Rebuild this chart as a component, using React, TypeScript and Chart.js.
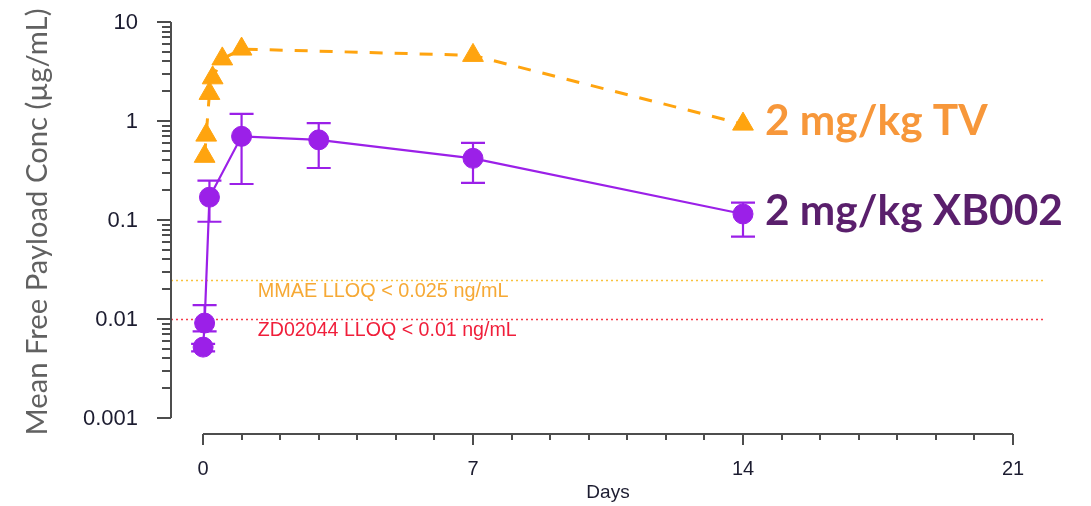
import { useEffect, useRef } from 'react';
import { Chart, registerables } from 'chart.js';

Chart.register(...registerables);

// ---- data ----
const tvDays = [0.042, 0.083, 0.167, 0.25, 0.5, 1, 7, 14];
const tvConc = [0.44, 0.72, 1.9, 2.73, 4.24, 5.33, 4.6, 0.93];

const xbDays = [0.0035, 0.042, 0.167, 1, 3, 7, 14];
const xbConc = [0.0052, 0.0091, 0.17, 0.7, 0.645, 0.42, 0.115];
const xbUpper = [0.0056, 0.0138, 0.25, 1.18, 0.95, 0.6, 0.15];
const xbLower = [0.0047, 0.0075, 0.096, 0.231, 0.335, 0.237, 0.068];

const lloqValues = [0.025, 0.01];
const lloqLabels = ['MMAE LLOQ < 0.025 ng/mL', 'ZD02044 LLOQ < 0.01 ng/mL'];

const xMajorTicks = [0, 7, 14, 21];
const xMajorLabels = ['0', '7', '14', '21'];
const xMinorTicks = [1, 2, 3, 4, 5, 6, 8, 9, 10, 11, 12, 13, 15, 16, 17, 18, 19, 20];
const yMajorTicks = [0.001, 0.01, 0.1, 1, 10];
const yMajorLabels = ['0.001', '0.01', '0.1', '1', '10'];
const yMinorMultipliers = [2, 3, 4, 5, 6, 7, 8, 9];

const seriesLabels = ['2 mg/kg TV', '2 mg/kg XB002'];
const xTitle = 'Days';
const yTitle = 'Mean Free Payload Conc (µg/mL)';

// ---- styles ----
const PURPLE = '#9b20e8';
const ORANGE = '#ffa40f';
const TV_TEXT = '#f7973a';
const XB_TEXT = '#5a1f6c';
const AXIS = '#4d4d4d';
const TICK_TEXT = '#1c1c30';

function fitSize(ctx: CanvasRenderingContext2D, text: string, weight: string, family: string, width: number) {
  ctx.font = `${weight} 100px ${family}`;
  return (100 * width) / ctx.measureText(text).width;
}

const errorBarPlugin = {
  id: 'errorBars',
  beforeDatasetsDraw(chart: any) {
    const { ctx, scales } = chart;
    const x = scales.x;
    const y = scales.y;
    ctx.save();
    ctx.strokeStyle = PURPLE;
    ctx.lineWidth = 2.2;
    for (let i = 0; i < xbDays.length; i++) {
      const px = x.getPixelForValue(xbDays[i]);
      const top = y.getPixelForValue(xbUpper[i]);
      const bot = y.getPixelForValue(xbLower[i]);
      ctx.beginPath();
      ctx.moveTo(px, top);
      ctx.lineTo(px, bot);
      ctx.moveTo(px - 12, top);
      ctx.lineTo(px + 12, top);
      ctx.moveTo(px - 12, bot);
      ctx.lineTo(px + 12, bot);
      ctx.stroke();
    }
    // LLOQ reference lines
    const lineColors = ['#f8c23e', '#f53a4a'];
    const textColors = ['#f6a935', '#f01e3a'];
    const left = chart.chartArea.left - 32;
    const right = chart.chartArea.right + 30;
    ctx.lineWidth = 1.5;
    ctx.setLineDash([2, 3]);
    for (let i = 0; i < lloqValues.length; i++) {
      const py = Math.round(y.getPixelForValue(lloqValues[i])) + 0.5;
      ctx.strokeStyle = lineColors[i];
      ctx.beginPath();
      ctx.moveTo(left, py);
      ctx.lineTo(right, py);
      ctx.stroke();
    }
    ctx.setLineDash([]);
    ctx.textAlign = 'left';
    ctx.textBaseline = 'middle';
    const tx = x.getPixelForValue(1.42);
    for (let i = 0; i < lloqValues.length; i++) {
      const py = y.getPixelForValue(lloqValues[i]);
      const s = fitSize(ctx, lloqLabels[i], '400', '"Liberation Sans", Arial, sans-serif', i === 0 ? 251 : 259);
      ctx.font = `400 ${s}px "Liberation Sans", Arial, sans-serif`;
      ctx.fillStyle = textColors[i];
      ctx.fillText(lloqLabels[i], tx, py + 12);
    }
    ctx.restore();
  },
};

const axesPlugin = {
  id: 'detachedAxes',
  afterDraw(chart: any) {
    const { ctx, chartArea, scales } = chart;
    const x = scales.x;
    const y = scales.y;
    ctx.save();
    ctx.strokeStyle = AXIS;
    ctx.lineWidth = 2;
    ctx.fillStyle = TICK_TEXT;

    // y axis
    const ax = chartArea.left - 32;
    const yTop = y.getPixelForValue(yMajorTicks[yMajorTicks.length - 1]);
    const yBot = y.getPixelForValue(yMajorTicks[0]);
    ctx.beginPath();
    ctx.moveTo(ax, yTop);
    ctx.lineTo(ax, yBot);
    for (const v of yMajorTicks) {
      const py = Math.round(y.getPixelForValue(v));
      ctx.moveTo(ax, py);
      ctx.lineTo(ax - 14, py);
    }
    for (let d = 0; d < yMajorTicks.length - 1; d++) {
      for (const m of yMinorMultipliers) {
        const py = Math.round(y.getPixelForValue(yMajorTicks[d] * m));
        ctx.moveTo(ax, py);
        ctx.lineTo(ax - 9, py);
      }
    }
    ctx.stroke();
    ctx.font = '400 22px "Liberation Sans", Arial, sans-serif';
    ctx.textAlign = 'right';
    ctx.textBaseline = 'middle';
    yMajorTicks.forEach((v, i) => {
      ctx.fillText(yMajorLabels[i], ax - 33, y.getPixelForValue(v) + 1);
    });

    // x axis
    const ay = chartArea.bottom + 16;
    ctx.beginPath();
    ctx.moveTo(x.getPixelForValue(xMajorTicks[0]), ay);
    ctx.lineTo(x.getPixelForValue(xMajorTicks[xMajorTicks.length - 1]), ay);
    for (const v of xMajorTicks) {
      const px = Math.round(x.getPixelForValue(v));
      ctx.moveTo(px, ay);
      ctx.lineTo(px, ay + 11);
    }
    for (const v of xMinorTicks) {
      const px = Math.round(x.getPixelForValue(v));
      ctx.moveTo(px, ay);
      ctx.lineTo(px, ay + 6);
    }
    ctx.stroke();
    ctx.font = '400 20px "Liberation Sans", Arial, sans-serif';
    ctx.textAlign = 'center';
    ctx.textBaseline = 'middle';
    xMajorTicks.forEach((v, i) => {
      ctx.fillText(xMajorLabels[i], x.getPixelForValue(v), ay + 35);
    });
    ctx.font = '400 19px "Liberation Sans", Arial, sans-serif';
    ctx.fillText(xTitle, x.getPixelForValue(10.5), ay + 59);

    // y title
    ctx.save();
    const ts = fitSize(ctx, yTitle, '400', 'Lato, "Open Sans", sans-serif', 427);
    ctx.font = `400 ${ts}px Lato, "Open Sans", sans-serif`;
    ctx.fillStyle = '#616161';
    ctx.translate(38, (yTop + yBot) / 2 + 2);
    ctx.rotate(-Math.PI / 2);
    ctx.textAlign = 'center';
    ctx.textBaseline = 'middle';
    ctx.fillText(yTitle, 0, 0);
    ctx.restore();

    // series labels at last points
    const lastTv = tvDays.length - 1;
    const lastXb = xbDays.length - 1;
    const s1 = fitSize(ctx, seriesLabels[1], '700', 'Lato, "Open Sans", sans-serif', 298);
    ctx.font = `700 ${s1}px Lato, "Open Sans", sans-serif`;
    ctx.textAlign = 'left';
    ctx.textBaseline = 'alphabetic';
    ctx.fillStyle = TV_TEXT;
    ctx.fillText(seriesLabels[0], x.getPixelForValue(tvDays[lastTv]) + 22, y.getPixelForValue(tvConc[lastTv]) + 11);
    ctx.fillStyle = XB_TEXT;
    ctx.fillText(seriesLabels[1], x.getPixelForValue(xbDays[lastXb]) + 22, y.getPixelForValue(xbConc[lastXb]) + 11);
    ctx.restore();
  },
};

export default function App() {
  const ref = useRef<HTMLCanvasElement>(null);
  useEffect(() => {
    const chart = new Chart(ref.current!, {
      type: 'line',
      data: {
        datasets: [
          {
            label: seriesLabels[1],
            data: xbDays.map((d, i) => ({ x: d, y: xbConc[i] })),
            borderColor: PURPLE,
            backgroundColor: PURPLE,
            borderWidth: 2.2,
            pointStyle: 'circle',
            pointRadius: 10,
            pointBorderWidth: 1,
            tension: 0,
            clip: false as any,
          },
          {
            label: seriesLabels[0],
            data: tvDays.map((d, i) => ({ x: d, y: tvConc[i] })),
            borderColor: ORANGE,
            backgroundColor: ORANGE,
            borderWidth: 3,
            borderDash: [13, 12],
            pointStyle: 'triangle',
            pointRadius: 12,
            pointBorderWidth: 1,
            tension: 0,
            clip: false as any,
          },
        ],
      },
      options: {
        animation: false,
        responsive: false,
        layout: { padding: { left: 203, right: 78, top: 22, bottom: 88 } },
        scales: {
          x: { type: 'linear', min: 0, max: 21, display: false },
          y: { type: 'logarithmic', min: 0.001, max: 10, display: false },
        },
        plugins: { legend: { display: false }, tooltip: { enabled: false } },
      },
      plugins: [errorBarPlugin, axesPlugin],
    } as any);
    return () => chart.destroy();
  }, []);
  return (
    <div style={{ position: 'absolute', left: 0, top: 0, width: 1091, height: 506 }}>
      <canvas ref={ref} width={1091} height={506} style={{ display: 'block' }} />
    </div>
  );
}
